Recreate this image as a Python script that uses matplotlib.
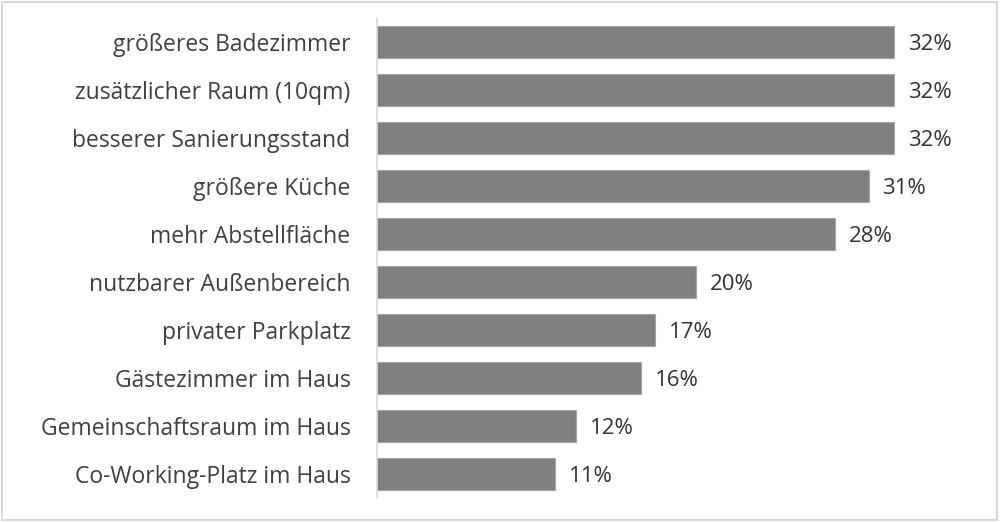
import matplotlib.pyplot as plt
from matplotlib.patches import Rectangle

categories = [
    "größeres Badezimmer",
    "zusätzlicher Raum (10qm)",
    "besserer Sanierungsstand",
    "größere Küche",
    "mehr Abstellfläche",
    "nutzbarer Außenbereich",
    "privater Parkplatz",
    "Gästezimmer im Haus",
    "Gemeinschaftsraum im Haus",
    "Co-Working-Platz im Haus",
]
values = [32.0, 32.0, 32.0, 30.4, 28.3, 19.7, 17.2, 16.3, 12.3, 11.0]
value_labels = ["32%", "32%", "32%", "31%", "28%", "20%", "17%", "16%", "12%", "11%"]

plt.rcParams["font.family"] = ["Open Sans", "DejaVu Sans"]

fig = plt.figure(figsize=(10, 5.22), dpi=100)
ax = fig.add_axes([0.377, 0.046, 0.566, 0.9195])

pos = list(range(len(categories)))
ax.barh(pos, values, height=0.67, color="#7f7f7f", edgecolor="#a6a6a6", linewidth=0.8)

for y, v, lab in zip(pos, values, value_labels):
    ax.annotate(lab, (v, y), xytext=(10, 0), textcoords="offset points",
                va="center_baseline", ha="left", fontsize=16, color="#333333")

ax.set_ylim(len(categories) - 0.5, -0.5)
ax.set_xlim(0, 35)
ax.set_yticks(pos)
ax.set_yticklabels(categories, fontsize=16.5, color="#404040")
ax.tick_params(axis="y", length=0, pad=19)
ax.set_xticks([])

for side in ["top", "right", "bottom"]:
    ax.spines[side].set_visible(False)
ax.spines["left"].set_color("#d9d9d9")
ax.spines["left"].set_linewidth(1.2)

# light frame around the whole chart
fig.patches.append(Rectangle((0.002, 0.003), 0.995, 0.993, transform=fig.transFigure,
                             fill=False, edgecolor="#d9d9d9", linewidth=1.5))

fig.savefig("out.png", dpi=100, facecolor="white")
